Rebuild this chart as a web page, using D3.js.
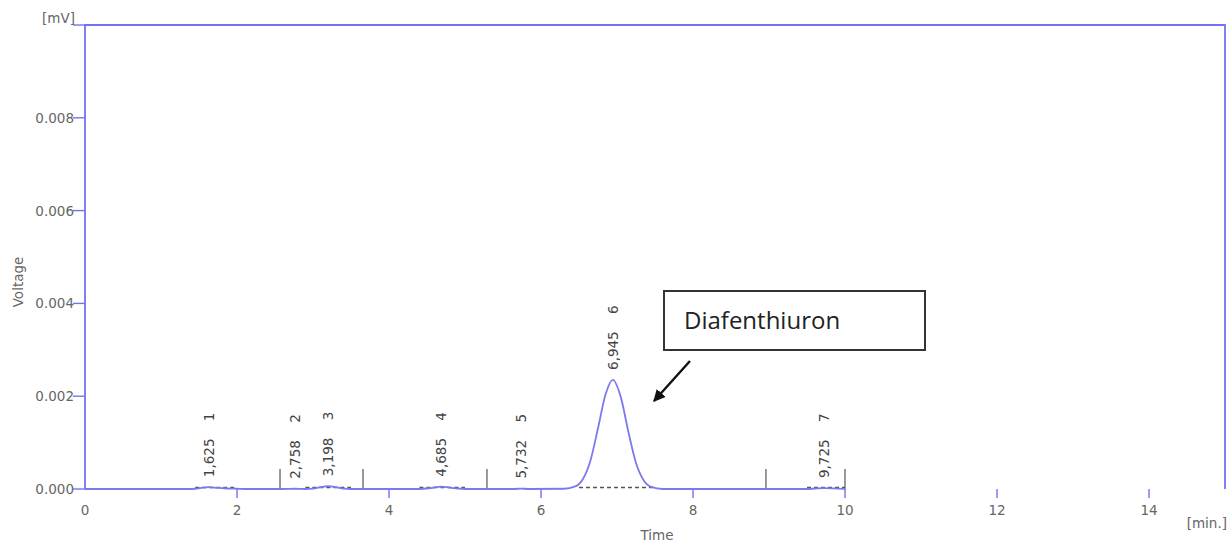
<!DOCTYPE html>
<html>
<head>
<meta charset="utf-8">
<script src="https://cdn.jsdelivr.net/npm/d3@7"></script>
<style>
  body { margin: 0; background: #fff; }
  svg { display: block; }
  .tick-label { font-family: "DejaVu Sans", sans-serif; font-size: 13.5px; fill: #666; }
  .peak-label { font-family: "DejaVu Sans", sans-serif; font-size: 13.5px; fill: #444; }
</style>
</head>
<body>
<div id="chart"></div>
<script>
// chromatogram trace, time [min] and signal [mV]
const traceTime = [0, 1.35, 1.45, 1.55, 1.625, 1.7, 1.8, 1.9, 2.0, 2.1, 2.6, 2.758, 2.9, 3.0, 3.1, 3.198, 3.3, 3.4, 3.5,
  4.4, 4.55, 4.685, 4.8, 4.95, 5.1, 5.65, 5.732, 5.85, 6.3, 6.45, 6.55, 6.65, 6.75, 6.85, 6.945, 7.05, 7.15, 7.25, 7.35,
  7.45, 7.6, 9.5, 9.6, 9.725, 9.9, 10.0];
const traceValue = [0, 0, 0.000005, 0.00003, 0.00004, 0.00003, 0.00002, 0.00001, 0.000005, 0, 0, 0.000005, 0, 0.00001,
  0.00004, 0.00006, 0.00004, 0.00001, 0, 0, 0.00002, 0.00005, 0.00003, 0.000005, 0, 0, 0.00001, 0, 0.000005, 0.000055,
  0.00021, 0.00061, 0.00131, 0.00204, 0.00235, 0.00198, 0.00123, 0.00056, 0.00019, 0.000045, 0, 0, 0.00001, 0.00002,
  0.00001, 0];

// integrated peaks
const peakTimes = [1.625, 2.758, 3.198, 4.685, 5.732, 6.945, 9.725];
const peakIds = [1, 2, 3, 4, 5, 6, 7];
const peakTexts = ['1,625', '2,758', '3,198', '4,685', '5,732', '6,945', '9,725'];

// peak baselines (dashed) [start, end]
const baseStart = [1.45, 2.9, 4.4, 6.5, 9.5];
const baseEnd = [2.0, 3.5, 5.0, 7.5, 10.0];

// integration separators
const separators = [2.566, 3.658, 5.289, 8.96, 10.0];

const xTicks = [2, 4, 6, 8, 10, 12, 14];
const xTickLabels = ['0', '2', '4', '6', '8', '10', '12', '14'];
const yTicks = [0, 0.002, 0.004, 0.006, 0.008];

const W = 1227, H = 543;
const axisColor = '#7272f6';
const traceColor = '#7a7aee';

const svg = d3.select('#chart').append('svg')
  .attr('width', W)
  .attr('height', H);

const x = d3.scaleLinear().domain([0, 15]).range([85, 1225]);
const y = d3.scaleLinear().domain([0, 0.010]).range([489, 25]);

// frame
svg.append('path')
  .attr('d', `M${x(0)},${y(0)}V${y(0.010)}H${x(15)}V${y(0)}`)
  .attr('fill', 'none')
  .attr('stroke', axisColor)
  .attr('stroke-width', 1.8);

// y axis ticks
const yAxis = svg.append('g');
yAxis.selectAll('line')
  .data([...yTicks, 0.010])
  .enter().append('line')
  .attr('x1', x(0) - 12).attr('x2', x(0))
  .attr('y1', d => y(d)).attr('y2', d => y(d))
  .attr('stroke', axisColor).attr('stroke-width', 1.4);
yAxis.selectAll('text')
  .data(yTicks)
  .enter().append('text')
  .attr('class', 'tick-label')
  .attr('x', x(0) - 11)
  .attr('y', d => y(d) + 5)
  .attr('text-anchor', 'end')
  .text(d => d3.format('.3f')(d));
svg.append('text')
  .attr('class', 'tick-label')
  .attr('x', x(0) - 10).attr('y', y(0.010) - 2)
  .attr('text-anchor', 'end')
  .text('[mV]');

// x axis ticks
const xAxis = svg.append('g');
xAxis.selectAll('line')
  .data(xTicks)
  .enter().append('line')
  .attr('x1', d => x(d)).attr('x2', d => x(d))
  .attr('y1', y(0)).attr('y2', y(0) + 9)
  .attr('stroke', axisColor).attr('stroke-width', 1.4);
xAxis.selectAll('text')
  .data([0, ...xTicks])
  .enter().append('text')
  .attr('class', 'tick-label')
  .attr('x', d => x(d))
  .attr('y', y(0) + 26)
  .attr('text-anchor', 'middle')
  .text((d, i) => xTickLabels[i]);
svg.append('text')
  .attr('class', 'tick-label')
  .attr('x', W).attr('y', y(0) + 39)
  .attr('text-anchor', 'end')
  .text('[min.]');

// axis titles
svg.append('text')
  .attr('class', 'tick-label')
  .attr('x', (x(0) + x(15)) / 2 + 2).attr('y', H - 3)
  .attr('text-anchor', 'middle')
  .text('Time');
svg.append('text')
  .attr('class', 'tick-label')
  .attr('transform', `translate(23, ${y(0.005) + 25}) rotate(-90)`)
  .attr('text-anchor', 'middle')
  .text('Voltage');

// separators
svg.selectAll('line.sep')
  .data(separators)
  .enter().append('line')
  .attr('class', 'sep')
  .attr('x1', d => x(d)).attr('x2', d => x(d))
  .attr('y1', y(0) - 20).attr('y2', y(0))
  .attr('stroke', '#555').attr('stroke-width', 1.2);

// dashed peak baselines
svg.selectAll('line.base')
  .data(baseStart)
  .enter().append('line')
  .attr('class', 'base')
  .attr('x1', d => x(d)).attr('x2', (d, i) => x(baseEnd[i]))
  .attr('y1', y(0) - 1.5).attr('y2', y(0) - 1.5)
  .attr('stroke', '#555').attr('stroke-width', 1.3)
  .attr('stroke-dasharray', '4,3');

// trace
const trace = traceTime.map((t, i) => [t, traceValue[i]]);
svg.append('path')
  .datum(trace)
  .attr('fill', 'none')
  .attr('stroke', traceColor)
  .attr('stroke-width', 1.8)
  .attr('d', d3.line().x(d => x(d[0])).y(d => y(d[1])).curve(d3.curveMonotoneX));

// peak labels
const valueAt = t => traceValue[traceTime.indexOf(t)] || 0;
const labels = svg.selectAll('g.peak')
  .data(peakTimes)
  .enter().append('g')
  .attr('class', 'peak')
  .attr('transform', d => `translate(${x(d) + 5}, ${y(valueAt(d)) - 10}) rotate(-90)`);
labels.append('text')
  .attr('class', 'peak-label')
  .text((d, i) => peakTexts[i]);
labels.append('text')
  .attr('class', 'peak-label')
  .attr('x', 56)
  .text((d, i) => peakIds[i]);

// annotation
svg.append('rect')
  .attr('x', 664).attr('y', 291)
  .attr('width', 261).attr('height', 59)
  .attr('fill', '#fff')
  .attr('stroke', '#333')
  .attr('stroke-width', 2);
svg.append('text')
  .attr('x', 684).attr('y', 329)
  .attr('font-family', '"Open Sans", sans-serif')
  .attr('font-size', 24)
  .attr('fill', '#222')
  .text('Diafenthiuron');

svg.append('defs').append('marker')
  .attr('id', 'arrow')
  .attr('viewBox', '0 0 10 10')
  .attr('refX', 9).attr('refY', 5)
  .attr('markerWidth', 5).attr('markerHeight', 5)
  .attr('orient', 'auto')
  .append('path')
  .attr('d', 'M0,0L10,5L0,10z')
  .attr('fill', '#111');
svg.append('line')
  .attr('x1', 690).attr('y1', 361)
  .attr('x2', 654).attr('y2', 401)
  .attr('stroke', '#111')
  .attr('stroke-width', 2.4)
  .attr('marker-end', 'url(#arrow)');
</script>
</body>
</html>
